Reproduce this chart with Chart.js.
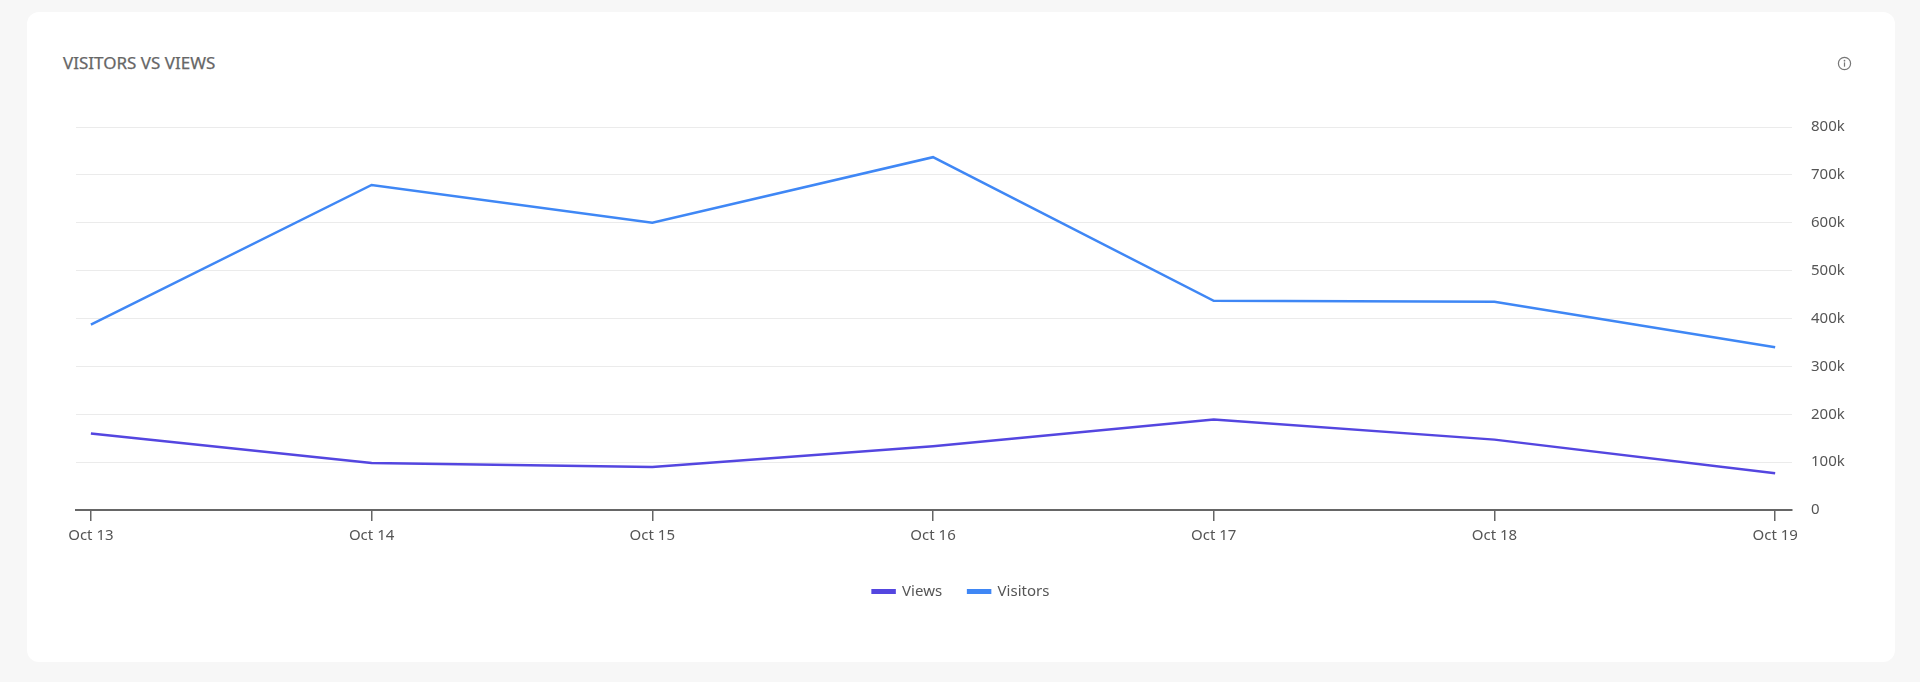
<!DOCTYPE html>
<html>
<head>
<meta charset="utf-8">
<script src="https://cdn.jsdelivr.net/npm/chart.js@4.4.0/dist/chart.umd.min.js"></script>
<style>
  html, body { margin: 0; padding: 0; background: #f7f7f7; width: 1920px; height: 682px; overflow: hidden; font-family: "Noto Sans", sans-serif; }
  .card { position: absolute; left: 27px; top: 12px; width: 1868px; height: 650px; background: #fff; border-radius: 12px; }
  .title { position: absolute; left: 36px; top: 39px; font-size: 17px; font-weight: 400; color: #666; -webkit-text-stroke: 0.25px #666; }
  .info { position: absolute; left: 1810px; top: 44px; }
  #chartWrap { position: absolute; left: 0; top: 0; width: 1868px; height: 650px; }
</style>
</head>
<body>
<div class="card">
  <div class="title">VISITORS VS VIEWS</div>
  <svg class="info" width="15" height="15" viewBox="0 0 16 16">
    <circle cx="8" cy="8" r="6.5" fill="none" stroke="#777" stroke-width="1.3"/>
    <circle cx="8" cy="5" r="0.9" fill="#777"/>
    <rect x="7.35" y="6.8" width="1.3" height="4.6" fill="#777"/>
  </svg>
  <div id="chartWrap"><canvas id="visitorsChart"></canvas></div>
</div>
<script>
const dates = ["Oct 13", "Oct 14", "Oct 15", "Oct 16", "Oct 17", "Oct 18", "Oct 19"];
const views = [160000, 98000, 90000, 133000, 189000, 147000, 77000];
const visitors = [387000, 679000, 600000, 737000, 437000, 435000, 340000];
const yTicks = [0, 100000, 200000, 300000, 400000, 500000, 600000, 700000, 800000];

const toPoints = arr => arr.map((v, i) => ({ x: i, y: v }));

const tickFont = { family: "Noto Sans", size: 15 };

new Chart(document.getElementById("visitorsChart"), {
  type: "line",
  data: {
    datasets: [
      {
        label: "Views",
        data: toPoints(views),
        borderColor: "#5446e0",
        backgroundColor: "#5446e0",
        borderWidth: 2.5,
        pointRadius: 0,
        tension: 0
      },
      {
        label: "Visitors",
        data: toPoints(visitors),
        borderColor: "#3f87f5",
        backgroundColor: "#3f87f5",
        borderWidth: 2.5,
        pointRadius: 0,
        tension: 0
      }
    ]
  },
  options: {
    responsive: true,
    maintainAspectRatio: false,
    animation: false,
    // symmetric side padding keeps the legend centred on the card
    layout: { padding: { left: 49, top: 115, right: 49, bottom: 53 } },
    plugins: {
      tooltip: { enabled: false },
      legend: {
        position: "bottom",
        labels: {
          boxWidth: 22,
          boxHeight: 2.5,
          padding: 26,
          color: "#555",
          font: { family: "Noto Sans", size: 15 }
        }
      }
    },
    scales: {
      x: {
        type: "linear",
        min: -0.053,
        max: 6.06,
        afterBuildTicks: scale => { scale.ticks = dates.map((d, i) => ({ value: i })); },
        afterFit: scale => { scale.height = 48; },
        grid: { drawOnChartArea: false, drawTicks: true, tickLength: 11, color: "#666", lineWidth: 1.5 },
        border: { display: true, color: "#666", width: 2 },
        ticks: {
          color: "#555",
          font: tickFont,
          padding: 6,
          maxRotation: 0,
          autoSkip: false,
          callback: v => dates[v]
        }
      },
      y: {
        position: "right",
        min: 0,
        max: 800000,
        afterBuildTicks: scale => { scale.ticks = yTicks.map(v => ({ value: v })); },
        afterFit: scale => { scale.width = 54; },
        grid: {
          drawTicks: false,
          color: c => (c.tick && c.tick.value === 0 ? "rgba(0,0,0,0)" : "#ebebeb"),
          lineWidth: 1
        },
        border: { display: false },
        ticks: {
          color: "#555",
          font: tickFont,
          padding: 19,
          callback: v => (v === 0 ? "0" : v / 1000 + "k")
        }
      }
    }
  }
});
</script>
</body>
</html>
